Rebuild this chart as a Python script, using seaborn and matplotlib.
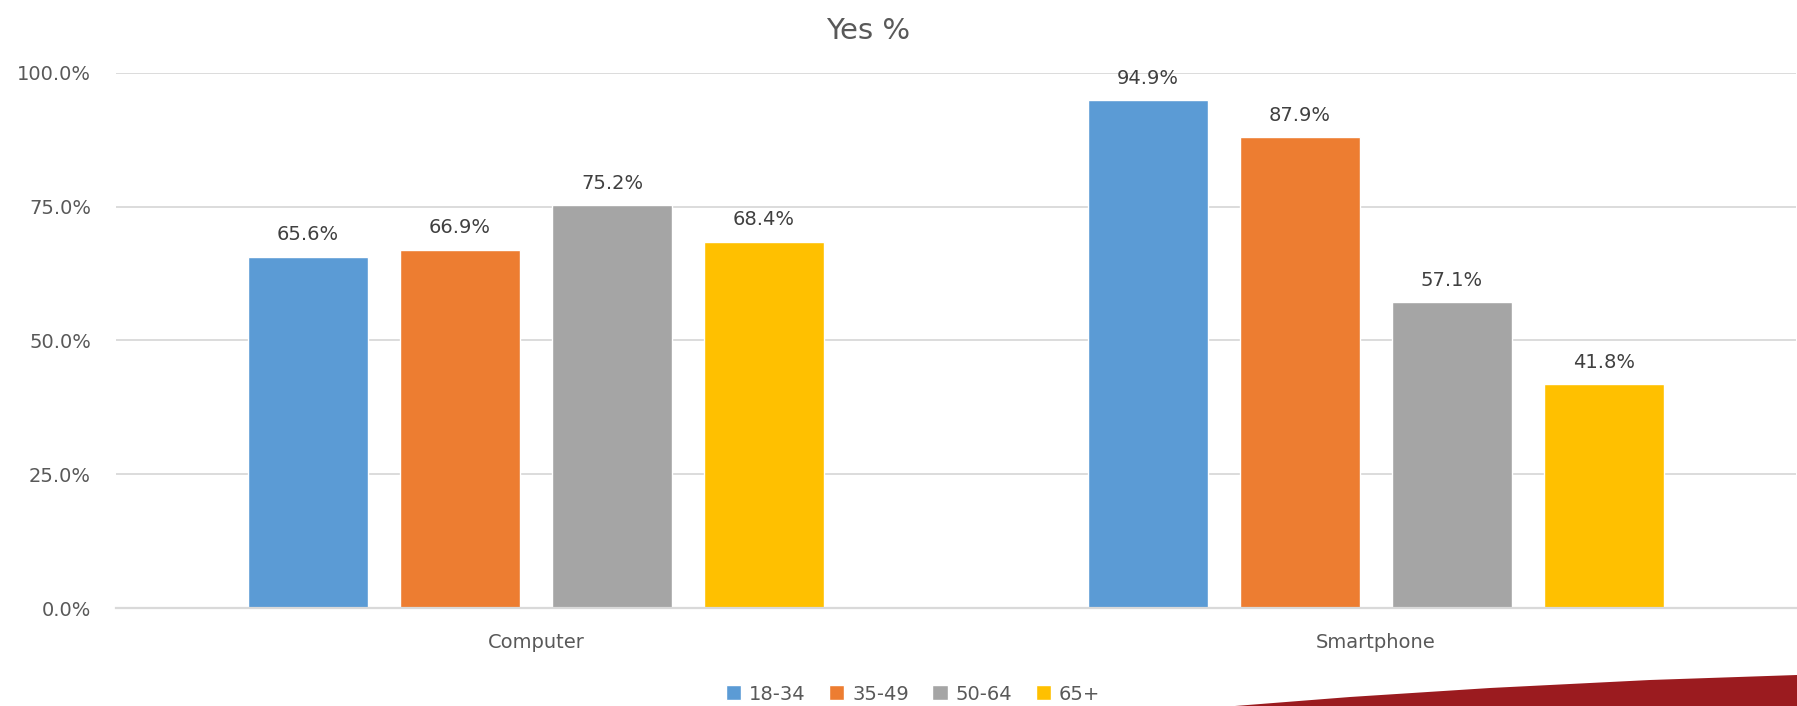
import numpy as np
import pandas as pd
import matplotlib
matplotlib.use('Agg')
import matplotlib.pyplot as plt
import seaborn as sns
from matplotlib.patches import Polygon, Arc

# chart data
devices = ['Computer', 'Smartphone']
age_groups = ['18-34', '35-49', '50-64', '65+']
computer_yes = [0.656, 0.669, 0.752, 0.684]
smartphone_yes = [0.949, 0.879, 0.571, 0.418]
bar_colors = ['#5B9BD5', '#ED7D31', '#A5A5A5', '#FFC000']

TEXT = '#595959'
GRID = '#D9D9D9'

df = pd.DataFrame({
    'device': np.repeat(devices, len(age_groups)),
    'age': age_groups * len(devices),
    'yes': computer_yes + smartphone_yes,
})

sns.set_style('white')
plt.rcParams['font.family'] = ['DejaVu Sans']

fig = plt.figure(figsize=(17.97, 7.06), dpi=100)

# background layer for the slide decorations (pixel coordinates, y down)
bg = fig.add_axes([0, 0, 1, 1], zorder=-1)
bg.set_xlim(0, 1797)
bg.set_ylim(706, 0)
bg.axis('off')
swoosh = [(1235, 706), (1350, 697), (1490, 688), (1650, 680), (1797, 675), (1797, 706)]
bg.add_patch(Polygon(swoosh, closed=True, facecolor='#9B1B1F', edgecolor='none'))
for r in [8, 15, 22, 29, 36]:
    bg.add_patch(Arc((2, 710), 2 * r, 2 * r, theta1=0, theta2=90,
                     color='#D0609A', alpha=0.6, lw=1.8))

ax = fig.add_axes([116 / 1797, 1 - 608 / 706, 1680 / 1797, (608 - 72.7) / 706])

sns.barplot(data=df, x='device', y='yes', hue='age', palette=bar_colors,
            width=0.724, gap=0.21, saturation=1, ax=ax, legend=True)

ax.set_ylim(0, 1)
ax.set_xlim(-0.5, 1.5)
ax.set_yticks([0, 0.25, 0.5, 0.75, 1.0])
ax.set_yticklabels(['0.0%', '25.0%', '50.0%', '75.0%', '100.0%'])
ax.yaxis.grid(True, color=GRID, linewidth=1.3)
ax.set_axisbelow(True)
ax.set_xlabel('')
ax.set_ylabel('')
ax.tick_params(axis='both', length=0, labelsize=14, labelcolor=TEXT, pad=18)

for s in ['top', 'left', 'right']:
    ax.spines[s].set_visible(False)
ax.spines['bottom'].set_color(GRID)
ax.spines['bottom'].set_linewidth(1.6)

# value labels above the bars
for cont in ax.containers:
    lbls = ax.bar_label(cont, fmt='{:.1%}', padding=9, fontsize=14, color='#404040')
    for t in lbls:
        t.set_clip_on(False)

# legend at the bottom
handles, labels = ax.get_legend_handles_labels()
ax.get_legend().remove()
fig.legend(handles, labels, loc='center', bbox_to_anchor=(913 / 1797, 1 - 694 / 706),
           ncol=4, frameon=False, fontsize=14, labelcolor=TEXT,
           handlelength=0.8, handleheight=0.8, handletextpad=0.4, columnspacing=1.2)

fig.text(868 / 1797, 1 - 39 / 706, 'Yes %', fontsize=21, color=TEXT,
         ha='center', va='baseline')

fig.savefig('out.png', dpi=100, facecolor='white')
